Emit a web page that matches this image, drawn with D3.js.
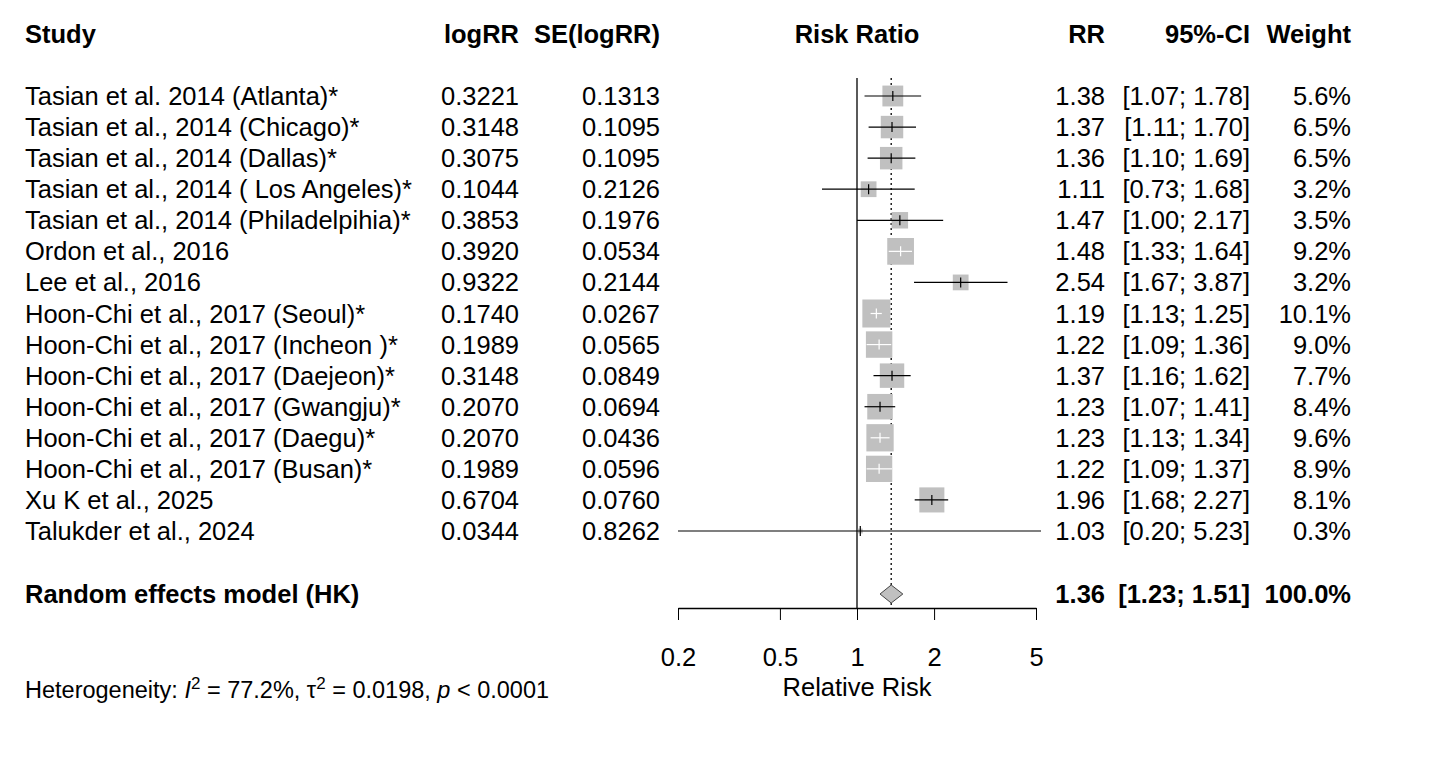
<!DOCTYPE html>
<html><head><meta charset="utf-8">
<script src="https://cdn.jsdelivr.net/npm/d3@7"></script>
<style>body{margin:0;background:#fff}text{font-family:"Liberation Sans",Arial,sans-serif;font-size:25.5px;fill:#000}</style>
</head><body><svg id="c" width="1430" height="763"></svg>
<script>
const studies=["Tasian et al. 2014 (Atlanta)*","Tasian et al., 2014 (Chicago)*","Tasian et al., 2014 (Dallas)*","Tasian et al., 2014 ( Los Angeles)*","Tasian et al.,  2014 (Philadelpihia)*","Ordon et al., 2016","Lee et al., 2016","Hoon-Chi et al., 2017 (Seoul)*","Hoon-Chi et al., 2017 (Incheon )*","Hoon-Chi et al., 2017 (Daejeon)*","Hoon-Chi et al., 2017 (Gwangju)*","Hoon-Chi et al., 2017 (Daegu)*","Hoon-Chi et al., 2017 (Busan)*","Xu K et al., 2025","Talukder et al., 2024"];
const logRR=["0.3221","0.3148","0.3075","0.1044","0.3853","0.3920","0.9322","0.1740","0.1989","0.3148","0.2070","0.2070","0.1989","0.6704","0.0344"];
const seLogRR=["0.1313","0.1095","0.1095","0.2126","0.1976","0.0534","0.2144","0.0267","0.0565","0.0849","0.0694","0.0436","0.0596","0.0760","0.8262"];
const rr=[1.38,1.37,1.36,1.11,1.47,1.48,2.54,1.19,1.22,1.37,1.23,1.23,1.22,1.96,1.03];
const lower=[1.07,1.11,1.10,0.73,1.00,1.33,1.67,1.13,1.09,1.16,1.07,1.13,1.09,1.68,0.20];
const upper=[1.78,1.70,1.69,1.68,2.17,1.64,3.87,1.25,1.36,1.62,1.41,1.34,1.37,2.27,5.23];
const weight=[5.6,6.5,6.5,3.2,3.5,9.2,3.2,10.1,9.0,7.7,8.4,9.6,8.9,8.1,0.3];
const pooled={rr:1.36,lower:1.23,upper:1.51,label:"Random effects model (HK)"};
const ticks=[0.2,0.5,1,2,5];
const f2=d3.format(".2f");
const svg=d3.select("#c");
const x=d3.scaleLog().domain([0.2,5]).range([678,1036]);
const y=d3.scaleLinear().domain([0,14]).range([96,531]);
const sz=d3.scaleSqrt().domain([0,10.1]).range([0,28]);
const yS=594;
const hdr=[["Study",25,"start"],["logRR",519,"end"],["SE(logRR)",660,"end"],["Risk Ratio",857,"middle"],["RR",1105,"end"],["95%-CI",1250,"end"],["Weight",1351,"end"]];
hdr.forEach(h=>svg.append("text").attr("x",h[1]).attr("y",43).attr("text-anchor",h[2]).attr("font-weight","bold").text(h[0]));
svg.append("line").attr("x1",x(1)).attr("x2",x(1)).attr("y1",78).attr("y2",608).attr("stroke","#000").attr("stroke-width",1.3);
svg.append("line").attr("x1",x(pooled.rr)).attr("x2",x(pooled.rr)).attr("y1",78).attr("y2",608).attr("stroke","#000").attr("stroke-dasharray","2,3").attr("stroke-width",1.3);
studies.forEach((s,i)=>{
  const yy=y(i), t=yy+9;
  svg.append("text").attr("x",25).attr("y",t).attr("textLength",null).text(s);
  svg.append("text").attr("x",519).attr("y",t).attr("text-anchor","end").text(logRR[i]);
  svg.append("text").attr("x",660).attr("y",t).attr("text-anchor","end").text(seLogRR[i]);
  svg.append("text").attr("x",1105).attr("y",t).attr("text-anchor","end").text(f2(rr[i]));
  svg.append("text").attr("x",1250).attr("y",t).attr("text-anchor","end").text(`[${f2(lower[i])}; ${f2(upper[i])}]`);
  svg.append("text").attr("x",1351).attr("y",t).attr("text-anchor","end").text(weight[i].toFixed(1)+"%");
  const w=sz(weight[i]), cx=x(rr[i]);
  svg.append("rect").attr("x",cx-w/2).attr("y",yy-w/2).attr("width",w).attr("height",w).attr("fill","#c0c0c0");
  const inside=x(lower[i])>=cx-w/2&&x(upper[i])<=cx+w/2;
  const col=inside?"#fff":"#000";
  svg.append("line").attr("x1",x(lower[i])).attr("x2",x(upper[i])).attr("y1",yy).attr("y2",yy).attr("stroke",col).attr("stroke-width",1.2);
  svg.append("line").attr("x1",cx).attr("x2",cx).attr("y1",yy-5).attr("y2",yy+5).attr("stroke",col).attr("stroke-width",1.2);
});
svg.append("text").attr("x",25).attr("y",yS+9).attr("font-weight","bold").text(pooled.label);
svg.append("text").attr("x",1105).attr("y",yS+9).attr("text-anchor","end").attr("font-weight","bold").text(f2(pooled.rr));
svg.append("text").attr("x",1250).attr("y",yS+9).attr("text-anchor","end").attr("font-weight","bold").text(`[${f2(pooled.lower)}; ${f2(pooled.upper)}]`);
svg.append("text").attr("x",1351).attr("y",yS+9).attr("text-anchor","end").attr("font-weight","bold").text("100.0%");
svg.append("polygon").attr("points",[[x(pooled.lower),yS],[x(pooled.rr),yS-9],[x(pooled.upper),yS],[x(pooled.rr),yS+9]].join(" ")).attr("fill","#c0c0c0").attr("stroke","#444").attr("stroke-width",1);
const ax=svg.append("g").attr("transform","translate(0,608)").call(d3.axisBottom(x).tickValues(ticks).tickFormat(d=>d).tickSize(12).tickSizeOuter(0));
ax.select(".domain").attr("stroke-width",1.3);
ax.selectAll("text").style("font-size","25.5px").style("font-family","Liberation Sans, Arial").attr("dy","0").attr("y",58);
svg.append("text").attr("x",x(1)).attr("y",696).attr("text-anchor","middle").text("Relative Risk");
const het=svg.append("text").attr("x",25).attr("y",698).style("font-size","23.5px");
het.append("tspan").text("Heterogeneity: ");
het.append("tspan").attr("font-style","italic").text("I");
het.append("tspan").attr("dy",-9).style("font-size","17px").text("2");
het.append("tspan").attr("dy",9).text(" = 77.2%, τ");
het.append("tspan").attr("dy",-9).style("font-size","17px").text("2");
het.append("tspan").attr("dy",9).text(" = 0.0198, ");
het.append("tspan").attr("font-style","italic").text("p");
het.append("tspan").text(" < 0.0001");
</script></body></html>
